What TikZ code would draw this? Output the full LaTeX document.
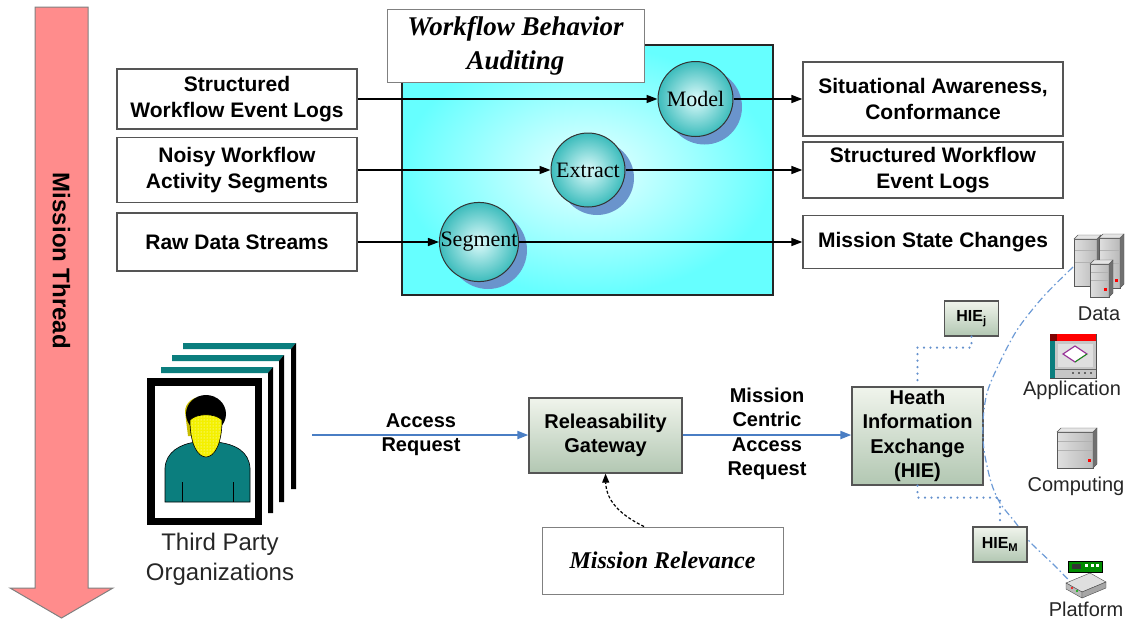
\documentclass[tikz,border=0pt]{standalone}
\usepackage{fontspec}
\setmainfont{Liberation Serif}
\setsansfont{Liberation Sans}
\usetikzlibrary{arrows.meta,patterns}

\definecolor{threadpink}{HTML}{FF8C8C}
\definecolor{boxline}{HTML}{555555}
\definecolor{auditcyan}{HTML}{66FFFF}
\definecolor{auditcore}{HTML}{EAFFFF}
\definecolor{ballcore}{HTML}{DDFBFB}
\definecolor{balledge}{HTML}{3CBCBC}
\definecolor{ballshadow}{HTML}{6A94CC}
\definecolor{gatetop}{HTML}{F0F4EC}
\definecolor{gatebottom}{HTML}{B2C7B2}
\definecolor{flowblue}{HTML}{4A7EC4}
\definecolor{linkblue}{HTML}{6D9BD6}
\definecolor{frameteal}{HTML}{0B7E7E}
\definecolor{faceyellow}{HTML}{F4F000}
\definecolor{faceshade}{HTML}{C8BC00}

\tikzset{
  srv/.pic={
    % a tower server: front face, side face, top face
    \fill[left color=gray!25, right color=gray!55, draw=gray!70!black, line width=0.4pt]
      (0,4) rectangle (\pgfkeysvalueof{/tikz/srvw}-4,\pgfkeysvalueof{/tikz/srvh});
    \fill[gray!60!black!80, draw=gray!70!black, line width=0.4pt]
      (\pgfkeysvalueof{/tikz/srvw}-4,4) -- (\pgfkeysvalueof{/tikz/srvw},0)
      -- (\pgfkeysvalueof{/tikz/srvw},\pgfkeysvalueof{/tikz/srvh}-4)
      -- (\pgfkeysvalueof{/tikz/srvw}-4,\pgfkeysvalueof{/tikz/srvh}) -- cycle;
    \fill[gray!20, draw=gray!70!black, line width=0.4pt]
      (0,4) -- (4,0) -- (\pgfkeysvalueof{/tikz/srvw},0) -- (\pgfkeysvalueof{/tikz/srvw}-4,4) -- cycle;
    \draw[gray!60, line width=0.6pt]
      (1,{4+0.25*(\pgfkeysvalueof{/tikz/srvh}-4)}) -- (\pgfkeysvalueof{/tikz/srvw}-5,{4+0.25*(\pgfkeysvalueof{/tikz/srvh}-4)})
      (1,{4+0.5*(\pgfkeysvalueof{/tikz/srvh}-4)}) -- (\pgfkeysvalueof{/tikz/srvw}-5,{4+0.5*(\pgfkeysvalueof{/tikz/srvh}-4)});
    \fill[red] (\pgfkeysvalueof{/tikz/srvw}-9,\pgfkeysvalueof{/tikz/srvh}-9) rectangle ++(3,3);
  },
  srvw/.initial=24, srvh/.initial=50,
}

\begin{document}
\begin{tikzpicture}[x=1pt,y=-1pt,
  plainbox/.style={draw=boxline, line width=1.3pt, fill=white, align=center, inner sep=0pt,
    font=\sffamily\bfseries\fontsize{21}{26}\selectfont},
  titlebox/.style={draw=gray, line width=1pt, fill=white, align=center, inner sep=0pt,
    font=\rmfamily\bfseries\itshape\fontsize{27}{34}\selectfont},
  stage/.style={circle, draw=black!80, line width=1pt, minimum size=75pt, inner sep=0pt,
    shading=radial, inner color=ballcore, outer color=balledge,
    font=\rmfamily\fontsize{22}{26}\selectfont},
  greenbox/.style={draw=boxline, line width=1.3pt, top color=gatetop, bottom color=gatebottom,
    align=center, inner sep=0pt, font=\sffamily\bfseries\fontsize{20}{24.5}\selectfont},
  tagbox/.style={draw=boxline, line width=1.2pt, top color=gatetop, bottom color=gatebottom,
    inner sep=0pt, minimum width=54pt, minimum height=35pt, font=\sffamily\bfseries\fontsize{16}{18}\selectfont},
  flow/.style={draw=black, line width=1.5pt, -{Triangle[length=11pt,width=8pt]}},
  bflow/.style={draw=flowblue, line width=2pt, -{Triangle[length=11pt,width=8pt]}},
  flowlabel/.style={align=center, inner sep=0pt, font=\sffamily\bfseries\fontsize{20}{24.5}\selectfont},
  iconlabel/.style={inner sep=0pt, font=\sffamily\fontsize{20}{24}\selectfont, text=black!85},
  dotlink/.style={draw=flowblue!85, line width=2.4pt, dash pattern=on 0pt off 6.5pt, line cap=round},
  dashdotlink/.style={draw=linkblue, line width=1.2pt, dash pattern=on 7pt off 3pt on 1.5pt off 3pt},
]
\useasboundingbox (0,0) rectangle (1129,621);

% ---------- mission thread arrow ----------
\fill[threadpink, draw=gray, line width=1pt]
  (35,7) -- (88,7) -- (88,588) -- (113,588) -- (61.5,618) -- (10,588) -- (35,588) -- cycle;
\node[rotate=-90, font=\sffamily\bfseries\fontsize{24}{28}\selectfont] (thread) at (61.5,261) {Mission Thread};

% ---------- workflow behavior auditing ----------
\node[draw=black!85, line width=1.6pt, shading=radial, inner color=auditcore, outer color=auditcyan,
  minimum width=371pt, minimum height=250pt, inner sep=0pt] (audit) at (587.5,170) {};
\node[titlebox, minimum width=257pt, minimum height=73pt] (title) at (515.5,45.5)
  {Workflow Behavior\\Auditing};

% shadows under the stage circles
\fill[ballshadow] (704.5,107) circle[radius=37.5];
\fill[ballshadow] (597,178) circle[radius=37];
\fill[ballshadow] (488,250) circle[radius=39];

\node[stage] (model) at (695.5,99) {Model};
\node[stage, minimum size=74pt] (extract) at (588,170) {Extract};
\node[stage, minimum size=79pt] (segment) at (479,242) {Segment};

% inputs
\node[plainbox, minimum width=240pt, minimum height=60pt] (in1) at (237,99) {Structured\\Workflow Event Logs};
\node[plainbox, minimum width=240pt, minimum height=65pt] (in2) at (237,170) {Noisy Workflow\\Activity Segments};
\node[plainbox, minimum width=240pt, minimum height=58pt] (in3) at (237,242) {Raw Data Streams};

% outputs
\node[plainbox, minimum width=260pt, minimum height=74pt] (out1) at (933,99) {Situational Awareness,\\Conformance};
\node[plainbox, minimum width=260pt, minimum height=56pt] (out2) at (933,170) {Structured Workflow\\Event Logs};
\node[plainbox, minimum width=260pt, minimum height=53pt] (out3) at (933,242) {Mission State Changes};

\draw[flow] (in1) -- (model);
\draw[flow] (model) -- (out1);
\draw[flow] (in2) -- (extract);
\draw[flow] (extract) -- (out2);
\draw[flow] (in3) -- (segment);
\draw[flow] (segment) -- (out3);

% ---------- third party organizations ----------
\foreach \xa/\xb/\ya/\yb in {183/296/343/489, 172/284/355/502, 161/273/367/513}{
  \fill[frameteal] (\xa,\ya) -- (\xb,\ya) -- (\xb-5,\ya+6) -- (\xa,\ya+6) -- cycle;
  \fill[black] (\xb,\ya) -- (\xb,\yb) -- (\xb-5,\yb) -- (\xb-5,\ya+6) -- cycle;
}
\fill[black] (147,378) rectangle (262,525);
\fill[white] (155,386) rectangle (255,518);
% person
\fill[frameteal, draw=black, line width=0.6pt]
  (165,502) -- (165,468) .. controls (166,452) and (180,444) .. (196,442) -- (216,442)
  .. controls (236,444) and (249,452) .. (250,468) -- (250,502) -- cycle;
\draw[black, line width=0.8pt] (182,482) -- (182,502) (233,482) -- (233,502);
\fill[faceshade] (185,412) .. controls (185,402) and (194,397) .. (200,397) -- (200,436) -- (188,436) -- cycle;
\fill[black] (206,414) ellipse[x radius=20, y radius=19];
\path[fill=faceyellow, draw=black, line width=0.6pt]
  (190,420) .. controls (190,445) and (198,457) .. (206,457)
  .. controls (214,457) and (222,445) .. (222,420)
  .. controls (215,413) and (197,413) .. (190,420) -- cycle;
\path[pattern=dots, pattern color=white]
  (191,421) .. controls (191,445) and (198,456) .. (206,456)
  .. controls (214,456) and (221,445) .. (221,421)
  .. controls (215,414) and (197,414) .. (191,421) -- cycle;
\node[align=center, inner sep=0pt, font=\sffamily\fontsize{24}{30}\selectfont, text=black!85] (orgs)
  at (220,559) {Third Party\\Organizations};
\coordinate (orgout) at (312,435);

% ---------- access path ----------
\node[greenbox, minimum width=153pt, minimum height=75pt] (gate) at (605.5,435.5) {Releasability\\Gateway};
\node[titlebox, font=\rmfamily\bfseries\itshape\fontsize{24}{28}\selectfont,
  minimum width=241pt, minimum height=67pt] (relevance) at (662.5,560.5) {Mission Relevance};
\node[greenbox, minimum width=131pt, minimum height=98pt] (hie) at (917.5,436)
  {Heath\\Information\\Exchange\\(HIE)};

\draw[bflow] (orgout) -- (gate.west |- orgout);
\node[flowlabel] (acclabel) at (421,434.5) {Access\\Request};
\draw[bflow] (gate.east |- orgout) -- (hie.west |- orgout);
\node[flowlabel] (mcalabel) at (767,434) {Mission\\Centric\\Access\\Request};

\draw[black, line width=1.2pt, dash pattern=on 3pt off 2pt, -{Triangle[length=9pt,width=7pt]}]
  ([xshift=-18.5pt]relevance.north) .. controls (614,512) and (606,496) .. (gate.south);

% ---------- resources ----------
\coordinate (dataend) at (1073,267);
\coordinate (platend) at (1085,597);
\draw[dashdotlink] plot[smooth] coordinates {(dataend) (1043,297) (1017,330) (998,366) (987,393)
  (983,421) (984,450) (991,482) (1000,503) (1015,522) (1030,542) (1055,566) (platend)};

\node[tagbox] (hiej) at (971.5,318.5) {HIE\textsubscript{j}};
\node[tagbox] (hiem) at (1000,544.5) {HIE\textsubscript{M}};
\draw[dotlink] (hiej.south) -- ++(0,11) -| (hie.north);
\draw[dotlink] (hie.south) -- ++(0,12) -| (hiem.north);

% data servers
\pic[srvw=27, srvh=51] at (1074,235) {srv};
\pic[srvw=25, srvh=54] at (1099,234) {srv};
\pic[srvw=23, srvh=37] at (1090,260) {srv};
\node[iconlabel] (datalabel) at (1099,314) {Data};

% application window
\fill[gray!45, draw=black!70, line width=0.6pt] (1050,334) rectangle (1096,378);
\fill[red] (1050,334) rectangle (1096,341);
\fill[red!50!black] (1050,334) rectangle (1057,341);
\fill[frameteal] (1050,341) rectangle (1055,378);
\fill[gray!25] (1058,344) rectangle (1093,367);
\draw[black!60, line width=0.5pt] (1055,369) -- (1096,369);
\fill[white, draw=violet!80, line width=1.2pt] (1063,354) -- (1075,346) -- (1087,354) -- (1075,362) -- cycle;
\draw[green!70!black, line width=0.8pt] (1075,362) -- (1087,354);
\foreach \dx in {1072,1078,1084,1090} \fill[black!60] (\dx,372) rectangle ++(2,2);
\node[iconlabel] (applabel) at (1072,390) {Application};

% computing tower
\pic[srvw=40, srvh=40] at (1057,428) {srv};
\node[iconlabel] (complabel) at (1076,486) {Computing};

% platform board
\fill[green!55!black, draw=black, line width=0.6pt] (1068,561) rectangle (1102,572);
\fill[black!80] (1072,564) rectangle (1081,569);
\foreach \dx in {1085,1091,1096} \fill[white] (\dx,564) rectangle ++(3,2.5);
\fill[gray!25, draw=gray!60!black, line width=0.4pt] (1066,583) -- (1090,573) -- (1106,582) -- (1082,592) -- cycle;
\fill[gray!55, draw=gray!60!black, line width=0.4pt] (1066,583) -- (1082,592) -- (1082,598) -- (1066,589) -- cycle;
\fill[gray!70, draw=gray!60!black, line width=0.4pt] (1082,592) -- (1106,582) -- (1106,588) -- (1082,598) -- cycle;
\fill[red] (1072,588) circle[radius=1.2];
\fill[green!70!black] (1077,591) circle[radius=1.2];
\node[iconlabel] (platlabel) at (1086,609) {Platform};

\end{tikzpicture}
\end{document}
